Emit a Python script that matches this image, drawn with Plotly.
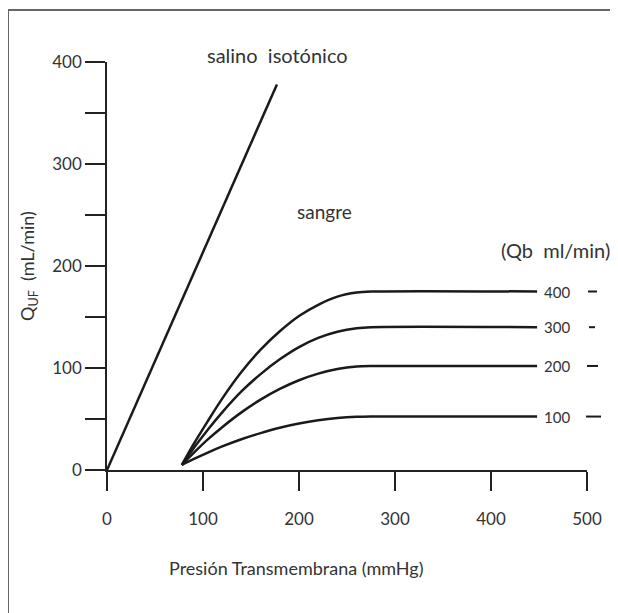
import plotly.graph_objects as go

# ---- data ----
tmp_saline = [0, 177]
q_saline = [0, 378]

tmp_blood = [78, 90, 105, 120, 140, 160, 180, 200, 220, 240, 260, 275, 448]
qb400 = [5, 25, 48, 70, 96, 118, 136, 151, 162, 170, 174, 175, 175]
qb300 = [5, 21, 39.5, 56.5, 77, 94, 108.5, 120.5, 129.5, 135.5, 139, 140, 140]
qb200 = [5, 16.5, 30, 42, 56.5, 69, 79.5, 88, 94.5, 99, 101.5, 102, 102]
qb100 = [5, 10.6, 17.1, 23.1, 30.2, 36.2, 41.4, 45.5, 48.7, 50.9, 52.1, 52.4, 52.4]

qb_labels = ["400", "300", "200", "100"]
qb_series = [qb400, qb300, qb200, qb100]

x_tickvals = [0, 100, 200, 300, 400, 500]
x_ticktext = ["0", "100", "200", "300", "400", "500"]
y_tickvals = [0, 100, 200, 300, 400]
y_ticktext = ["0", "100", "200", "300", "400"]

FONT = "Lato"
TXT = "#333333"
LINE = "#1a1a1a"
AX = "#222222"

fig = go.Figure()
fig.add_trace(go.Scatter(x=tmp_saline, y=q_saline, mode="lines",
                         line=dict(color=LINE, width=2.5), showlegend=False))
for s in qb_series:
    fig.add_trace(go.Scatter(x=tmp_blood, y=s, mode="lines",
                             line=dict(color=LINE, width=2.5, shape="spline", smoothing=0.8),
                             showlegend=False))

# page has an 8px body margin: figure pixel = reference pixel - 8
OFF = 8
W, H = 610, 605
L, T = 107 - OFF, 62 - OFF
PR, PB = 587 - OFF, 470 - OFF
R, B = W - PR, H - PB
pw, ph = PR - L, PB - T

def px2paper_x(px):
    return (px - OFF - L) / pw

def px2paper_y(py):
    return (PB - (py - OFF)) / ph

def note(x, y, text, size, **kw):
    d = dict(x=x, y=y, text=text, showarrow=False, xanchor="center", yanchor="middle",
             font=dict(family=FONT, size=size, color=TXT))
    d.update(kw)
    return d

annotations = []
for lab, s in zip(qb_labels, qb_series):
    annotations.append(note(px2paper_x(557), s[-1], lab, 15, xref="paper", yref="y"))
annotations += [
    note(px2paper_x(555), px2paper_y(250), "(Qb  ml/min)", 20, xref="paper", yref="paper"),
    note(px2paper_x(277), px2paper_y(55), "salino  isotónico", 20, xref="paper", yref="paper"),
    note(px2paper_x(324), px2paper_y(211), "sangre", 19, xref="paper", yref="paper"),
    note(px2paper_x(296), px2paper_y(568), "Presión Transmembrana (mmHg)", 18,
         xref="paper", yref="paper"),
    note(px2paper_x(28), px2paper_y(266), "Q<sub>UF</sub>  (mL/min)", 18,
         xref="paper", yref="paper", textangle=-90),
]

shapes = [dict(type="rect", xref="paper", yref="paper",
               x0=px2paper_x(8), x1=px2paper_x(700), y0=px2paper_y(700), y1=px2paper_y(10),
               line=dict(color="#666666", width=2), fillcolor="rgba(0,0,0,0)", layer="below")]
dash_px = [(588, 597), (589, 595), (587, 598), (586, 601)]
for (a, b), s in zip(dash_px, qb_series):
    shapes.append(dict(type="line", xref="paper", yref="y",
                       x0=px2paper_x(a), x1=px2paper_x(b), y0=s[-1], y1=s[-1],
                       line=dict(color=LINE, width=2)))

fig.update_layout(
    width=W, height=H,
    margin=dict(l=L, r=R, t=T, b=B, pad=0),
    paper_bgcolor="white", plot_bgcolor="white",
    annotations=annotations, shapes=shapes,
    xaxis=dict(range=[0, 500], tickvals=x_tickvals, ticktext=x_ticktext,
               showgrid=False, zeroline=False, showline=True, linecolor=AX, linewidth=1.5,
               ticks="outside", ticklen=19, tickwidth=1.5, tickcolor=AX,
               ticklabelstandoff=14,
               tickfont=dict(family=FONT, size=17, color=TXT)),
    yaxis=dict(range=[0, 400], tickvals=y_tickvals, ticktext=y_ticktext,
               showgrid=False, zeroline=False, showline=True, linecolor=AX, linewidth=1.5,
               ticks="outside", ticklen=20, tickwidth=1.5, tickcolor=AX,
               minor=dict(tickvals=[50, 150, 250, 350], ticks="outside", ticklen=20,
                          tickwidth=1.5, tickcolor=AX, showgrid=False),
               tickfont=dict(family=FONT, size=17, color=TXT)),
)

fig.write_html("out.html")
